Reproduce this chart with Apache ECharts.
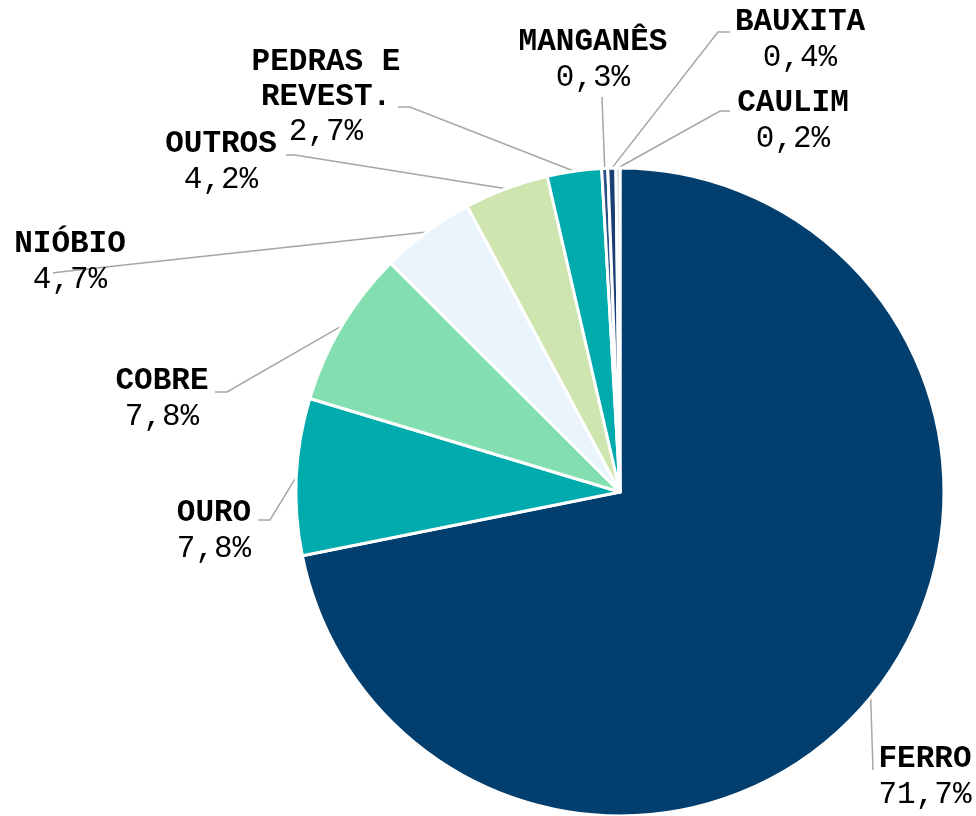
<!DOCTYPE html>
<html>
<head>
<meta charset="utf-8">
<script src="https://cdn.jsdelivr.net/npm/echarts@6/dist/echarts.min.js"></script>
<style>
  html, body { margin: 0; padding: 0; background: #fff; }
  #piechart { width: 976px; height: 816px; }
</style>
</head>
<body>
<div id="piechart"></div>
<script>
// dados do gráfico (%)
var categorias = ['FERRO', 'OURO', 'COBRE', 'NIÓBIO', 'OUTROS', 'PEDRAS E\nREVEST.', 'MANGANÊS', 'BAUXITA', 'CAULIM']
var valores = [71.7, 7.8, 7.8, 4.7, 4.2, 2.7, 0.3, 0.4, 0.2]
var cores = ['#023F6E', '#00ABAD', '#84DFB0', '#EAF4FD', '#CFE5B0', '#00ABAD', '#2A4E85', '#1B3F73', '#BFC9D4']

// posição de cada rótulo (centro do bloco) e pontos da linha guia
var rotuloPos = [
  { x: 925, y: 777, line: [[873, 770], [873, 770]] },
  { x: 214, y: 531, line: [[270, 520], [258, 520]] },
  { x: 162, y: 399, line: [[227, 392], [215, 392]] },
  { x: 70, y: 262, line: [[60, 272], [53, 273]] },
  { x: 221, y: 162, line: [[295, 155], [286, 155]] },
  { x: 326, y: 97, line: [[410, 107], [398, 107]] },
  { x: 593, y: 60, line: [[602, 97], [602, 97]] },
  { x: 800, y: 40, line: [[718, 32], [730, 32]] },
  { x: 793, y: 121, line: [[720, 111], [730, 111]] }
]

var chart = echarts.init(document.getElementById('piechart'))

var dados = categorias.map(function (nome, i) {
  return {
    name: nome,
    value: valores[i],
    itemStyle: { color: cores[i] }
  }
})

chart.setOption({
  animation: false,
  series: [
    {
      type: 'pie',
      center: [620, 492],
      radius: 324,
      startAngle: 90,
      clockwise: true,
      avoidLabelOverlap: false,
      itemStyle: {
        borderColor: '#ffffff',
        borderWidth: 3
      },
      label: {
        show: true,
        position: 'outside',
        color: '#000',
        fontFamily: 'Liberation Mono',
        fontSize: 31,
        lineHeight: 35,
        align: 'center',
        formatter: function (p) {
          var linhas = p.name.split('\n').map(function (s) { return '{n|' + s + '}' })
          return linhas.join('\n') + '\n{v|' + p.value.toFixed(1).replace('.', ',') + '%}'
        },
        rich: {
          n: { fontFamily: 'Liberation Mono', fontWeight: 'bold', fontSize: 31, lineHeight: 35, color: '#000', align: 'center' },
          v: { fontFamily: 'Liberation Mono', fontWeight: 'normal', fontSize: 31, lineHeight: 35, color: '#000', align: 'center' }
        }
      },
      labelLine: {
        show: true,
        length: 20,
        length2: 10,
        lineStyle: { color: '#A6A6A6', width: 1.5 }
      },
      labelLayout: function (params) {
        var pos = rotuloPos[params.dataIndex]
        var inicio = params.labelLinePoints ? params.labelLinePoints[0] : pos.line[0]
        return {
          x: pos.x,
          y: pos.y,
          align: 'center',
          verticalAlign: 'middle',
          labelLinePoints: [inicio, pos.line[0], pos.line[1]]
        }
      },
      emphasis: { disabled: true },
      data: dados
    }
  ]
})
</script>
</body>
</html>
